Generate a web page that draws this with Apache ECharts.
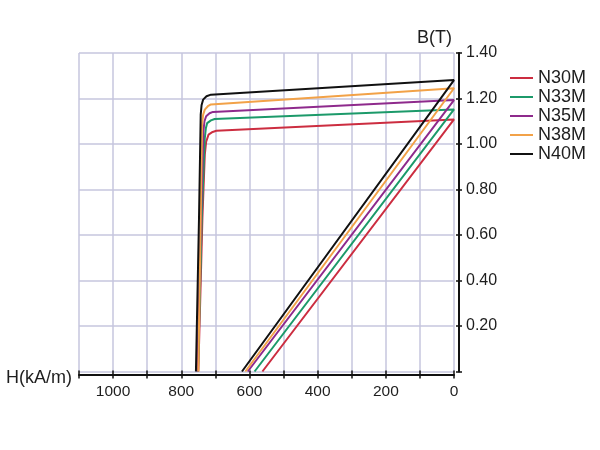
<!DOCTYPE html>
<html>
<head>
<meta charset="utf-8">
<script src="https://cdn.jsdelivr.net/npm/echarts@6/dist/echarts.min.js"></script>
<style>html,body{margin:0;padding:0;background:#fff}#chart{width:600px;height:450px}</style>
</head>
<body>
<div id="chart"></div>
<script>
// Grades (legend order)
const grades = ['N30M', 'N33M', 'N35M', 'N38M', 'N40M'];
const gradeColors = ['#cc2d40', '#1c9a6a', '#8e2a8c', '#f2a248', '#111111'];

// Each curve: [H (kA/m), B (T)] — intrinsic curve from knee to Br, then the normal B-H line down to Hcb
const curveN30M = [[750,0],[738,0.675],[731,0.953],[727,1.010],[720,1.041],[708,1.053],[697,1.058],[0,1.108],[562,0]];
const curveN33M = [[751,0],[740,0.675],[731,1.026],[728,1.068],[724,1.092],[713,1.104],[702,1.110],[0,1.152],[585,0]];
const curveN35M = [[753,0],[742,0.675],[735,1.056],[732,1.100],[727,1.122],[717,1.135],[707,1.141],[0,1.193],[605,0]];
const curveN38M = [[750,0],[743,0.675],[739,1.085],[736,1.128],[731,1.151],[722,1.166],[713,1.174],[0,1.245],[612,0]];
const curveN40M = [[757,0],[748,0.675],[743,1.129],[740.5,1.170],[736,1.195],[726,1.210],[713,1.217],[0,1.281],[622,0]];
const curves = [curveN30M, curveN33M, curveN35M, curveN38M, curveN40M];

// Tick labels
const hTickLabels = [0, 200, 400, 600, 800, 1000];
const bTickLabels = ['0.20', '0.40', '0.60', '0.80', '1.00', '1.20', '1.40'];

const FONT = 'Liberation Sans, Arial, Helvetica, sans-serif';
const gridColor = '#c6c6de';
const inkColor = '#1e1e1e';

const chart = echarts.init(document.getElementById('chart'), null, {renderer: 'canvas'});

const baseX = {
  type: 'value', inverse: true, min: 0, max: 1100, interval: 100,
  position: 'bottom', offset: 3, gridIndex: 0
};
const baseY = {
  type: 'value', min: 0, max: 1.4, interval: 0.2,
  position: 'right', offset: 5, gridIndex: 0
};

const option = {
  animation: false,
  backgroundColor: '#ffffff',
  textStyle: {fontFamily: FONT},
  grid: {left: 79, right: 146, top: 53, bottom: 78.5, containLabel: false},
  legend: {
    orient: 'vertical', left: 510, top: 69, padding: 0,
    icon: 'rect', itemWidth: 23, itemHeight: 2, itemGap: 1,
    data: grades,
    textStyle: {fontFamily: FONT, fontSize: 18, lineHeight: 18, color: inkColor}
  },
  xAxis: [
    Object.assign({}, baseX, {
      name: 'H(kA/m)', nameLocation: 'end', nameGap: 7,
      nameTextStyle: {fontFamily: FONT, fontSize: 18, lineHeight: 8, color: inkColor, verticalAlign: 'top'},
      axisLine: {show: true, onZero: false, lineStyle: {color: '#111', width: 2}},
      axisTick: {show: true, inside: false, length: 4, lineStyle: {color: '#111', width: 1.5}},
      axisLabel: {
        show: true, margin: 9, fontFamily: FONT, fontSize: 15.5, color: inkColor,
        formatter: v => hTickLabels.indexOf(v) >= 0 ? String(v) : ''
      },
      splitLine: {show: true, lineStyle: {color: gridColor, width: 1.5}}
    }),
    Object.assign({}, baseX, {
      axisLine: {show: false, onZero: false},
      axisTick: {show: true, inside: true, length: 4, lineStyle: {color: '#111', width: 1.5}},
      axisLabel: {show: false},
      splitLine: {show: false}
    })
  ],
  yAxis: [
    Object.assign({}, baseY, {
      name: 'B(T)', nameLocation: 'end', nameGap: 6,
      nameTextStyle: {fontFamily: FONT, fontSize: 18, color: inkColor, align: 'right', verticalAlign: 'bottom', padding: [0, 7, 0, 0]},
      axisLine: {show: true, onZero: false, lineStyle: {color: '#111', width: 2}},
      axisTick: {show: true, inside: false, length: 3, lineStyle: {color: '#111', width: 1.5}},
      axisLabel: {
        show: true, margin: 7, fontFamily: FONT, fontSize: 16, color: inkColor,
        formatter: v => { const s = v.toFixed(2); return bTickLabels.indexOf(s) >= 0 ? s : ''; }
      },
      splitLine: {show: true, lineStyle: {color: gridColor, width: 1.5}}
    }),
    Object.assign({}, baseY, {
      axisLine: {show: false, onZero: false},
      axisTick: {show: true, inside: true, length: 3, lineStyle: {color: '#111', width: 1.5}},
      axisLabel: {show: false},
      splitLine: {show: false}
    })
  ],
  series: grades.map((g, i) => ({
    name: g, type: 'line', xAxisIndex: 0, yAxisIndex: 0,
    data: curves[i], symbol: 'none', smooth: false,
    itemStyle: {color: gradeColors[i]},
    lineStyle: {color: gradeColors[i], width: 2}
  }))
};

chart.setOption(option);
</script>
</body>
</html>
